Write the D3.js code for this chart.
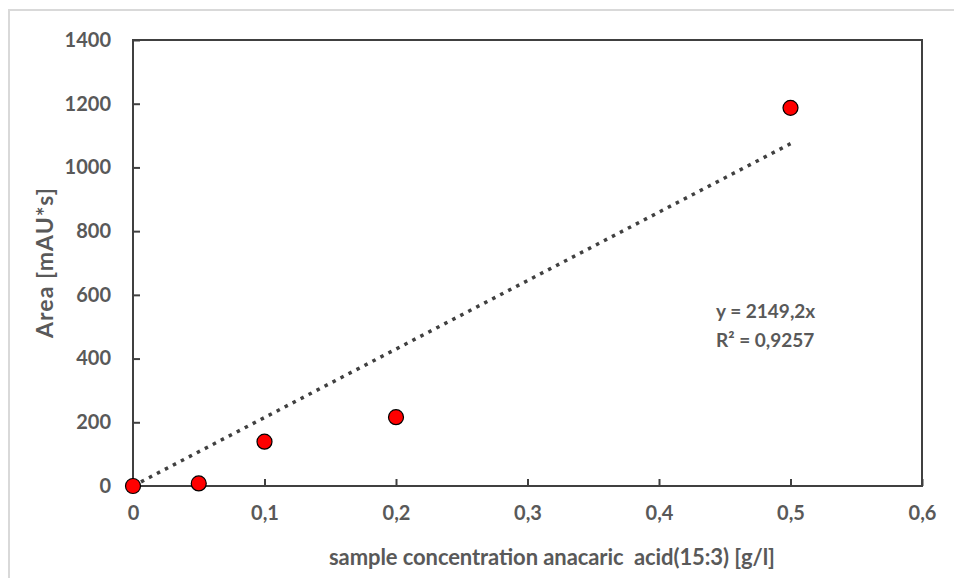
<!DOCTYPE html>
<html>
<head>
<meta charset="utf-8">
<script src="https://cdn.jsdelivr.net/npm/d3@7"></script>
<style>
    body { margin: 0; background: #fff; }
    text { font-family: Lato, "Open Sans", sans-serif; font-weight: bold; fill: #595959; }
</style>
</head>
<body>
<div id="chart"></div>
<script>
// data
const concentration = [0, 0.05, 0.1, 0.2, 0.5];
const area = [0, 8, 139, 216, 1187];
const xTicks = [0, 0.1, 0.2, 0.3, 0.4, 0.5, 0.6];
const yTicks = [0, 200, 400, 600, 800, 1000, 1200, 1400];
const slope = 2149.2;
const equationLines = ["y = 2149,2x", "R² = 0,9257"];

const W = 954, H = 578;
const margin = { top: 40, right: 32, bottom: 92, left: 133 };
const width = W - margin.left - margin.right;
const height = H - margin.top - margin.bottom;

const svg = d3.select("#chart").append("svg")
    .attr("width", W)
    .attr("height", H);

// outer chart frame (light grey)
svg.append("path")
    .attr("d", `M9,${H} L9,10 L${W},10`)
    .attr("fill", "none")
    .attr("stroke", "#d9d9d9")
    .attr("stroke-width", 2);

const g = svg.append("g")
    .attr("transform", `translate(${margin.left},${margin.top})`);

const x = d3.scaleLinear().domain([0, 0.6]).range([0, width]);
const y = d3.scaleLinear().domain([0, 1400]).range([height, 0]);

const fmt = d => String(d).replace(".", ",");

// x axis, ticks pointing inward
const xAxis = g.append("g")
    .attr("transform", `translate(0,${height})`)
    .call(d3.axisBottom(x).tickValues(xTicks).tickFormat(fmt).tickSizeInner(-7).tickSizeOuter(0).tickPadding(20));

const yAxis = g.append("g")
    .call(d3.axisLeft(y).tickValues(yTicks).tickFormat(d => d).tickSizeInner(-7).tickSizeOuter(0).tickPadding(22));

[xAxis, yAxis].forEach(ax => {
    ax.select(".domain").remove();
    ax.selectAll("line").attr("stroke", "#404040").attr("stroke-width", 2);
    ax.selectAll("text")
        .style("font-size", "20px")
        .style("font-family", "Lato, sans-serif")
        .attr("fill", "#595959");
});

// plot box
g.append("rect")
    .attr("width", width)
    .attr("height", height)
    .attr("fill", "none")
    .attr("stroke", "#404040")
    .attr("stroke-width", 2);

// trendline through origin
const xEnd = concentration[concentration.length - 1];
g.append("line")
    .attr("x1", x(0))
    .attr("y1", y(0))
    .attr("x2", x(xEnd))
    .attr("y2", y(slope * xEnd))
    .attr("stroke", "#404040")
    .attr("stroke-width", 3.5)
    .attr("stroke-dasharray", "3.5 5.5");

// markers
g.selectAll(".pt")
    .data(concentration.map((c, i) => ({ c, a: area[i] })))
    .join("circle")
    .attr("class", "pt")
    .attr("cx", d => x(d.c))
    .attr("cy", d => y(d.a))
    .attr("r", 7.5)
    .attr("fill", "#ff0000")
    .attr("stroke", "#000")
    .attr("stroke-width", 1.2);

// equation label
g.append("g")
    .selectAll("text")
    .data(equationLines)
    .join("text")
    .attr("x", 583)
    .attr("y", (d, i) => 278 + i * 29)
    .style("font-size", "19px")
    .text(d => d);

// axis titles
svg.append("text")
    .attr("x", 552)
    .attr("y", 565)
    .attr("text-anchor", "middle")
    .style("font-size", "22px")
    .style("white-space", "pre")
    .attr("textLength", 446)
    .text("sample concentration anacaric  acid(15:3) [g/l]");

svg.append("text")
    .attr("transform", `translate(53,${margin.top + height / 2}) rotate(-90)`)
    .attr("text-anchor", "middle")
    .style("font-size", "23px")
    .attr("textLength", 150)
    .text("Area [mAU*s]");
</script>
</body>
</html>
